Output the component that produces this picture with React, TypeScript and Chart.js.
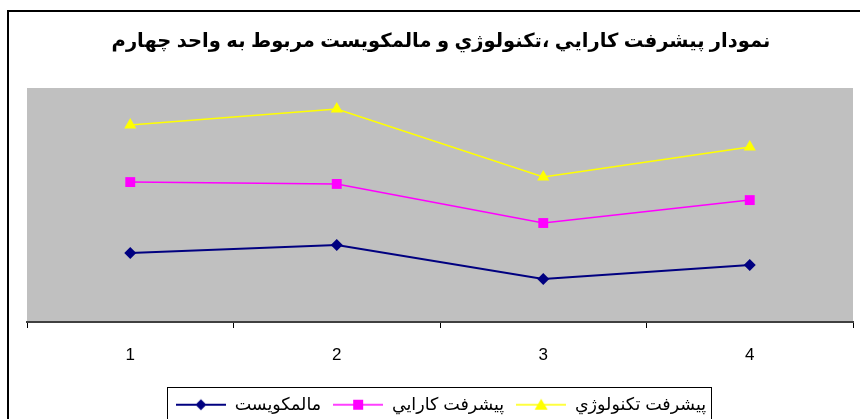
import React, { useEffect, useRef } from 'react';
import { Chart, registerables } from 'chart.js';

Chart.register(...registerables);

const titleText = 'نمودار پيشرفت كارايي ،تكنولوژي و مالمكويست مربوط به واحد چهارم';
const categories = ['1', '2', '3', '4'];
const seriesNames = ['مالمكويست', 'پيشرفت كارايي', 'پيشرفت تكنولوژي'];
const malmquist = [29.5, 32.9, 18.4, 24.4];
const efficiency = [59.8, 59.0, 42.3, 52.1];
const technology = [84.2, 91.0, 62.0, 74.8];
const seriesColors = ['#000080', '#FF00FF', '#FFFF00'];
const seriesShapes = ['rectRot', 'rect', 'triangle'];

const FONT = 'Arial, "Liberation Sans", "DejaVu Sans", sans-serif';
const ICON_W = 50;

function makeIcon(color: string, shape: string, lineWidth: number): HTMLCanvasElement {
  const c = document.createElement('canvas');
  c.width = ICON_W;
  c.height = 16;
  const ctx = c.getContext('2d')!;
  ctx.strokeStyle = color;
  ctx.lineWidth = lineWidth;
  ctx.beginPath();
  ctx.moveTo(0, 8);
  ctx.lineTo(ICON_W, 8);
  ctx.stroke();
  ctx.fillStyle = color;
  ctx.beginPath();
  const cx = ICON_W / 2, cy = 8;
  if (shape === 'rectRot') {
    ctx.moveTo(cx, cy - 5.5);
    ctx.lineTo(cx + 5.5, cy);
    ctx.lineTo(cx, cy + 5.5);
    ctx.lineTo(cx - 5.5, cy);
  } else if (shape === 'rect') {
    ctx.rect(cx - 5, cy - 5, 10, 10);
  } else {
    ctx.moveTo(cx, cy - 6);
    ctx.lineTo(cx + 6.5, cy + 5);
    ctx.lineTo(cx - 6.5, cy + 5);
  }
  ctx.closePath();
  ctx.fill();
  return c;
}

export default function App() {
  const ref = useRef<HTMLCanvasElement>(null);

  useEffect(() => {
    const canvas = ref.current!;
    const icons = seriesColors.map((c, i) => makeIcon(c, seriesShapes[i], i === 0 ? 2 : 1.5));
    const seriesValues = [malmquist, efficiency, technology];

    const framePlugin = {
      id: 'framePlugin',
      beforeDraw(chart: any) {
        const { ctx, chartArea } = chart;
        ctx.save();
        ctx.fillStyle = '#FFFFFF';
        ctx.fillRect(0, 0, chart.width, chart.height);
        ctx.fillStyle = '#C0C0C0';
        ctx.fillRect(chartArea.left, chartArea.top, chartArea.right - chartArea.left, chartArea.bottom - chartArea.top);
        ctx.restore();
      },
      afterDraw(chart: any) {
        const { ctx } = chart;
        ctx.save();
        ctx.strokeStyle = '#000000';
        ctx.lineWidth = 2;
        ctx.strokeRect(8, 11, 1000, 1000);
        const boxes = chart.legend?.legendHitBoxes || [];
        if (boxes.length) {
          const left = Math.min(...boxes.map((b: any) => b.left)) - 9;
          const right = Math.max(...boxes.map((b: any) => b.left + b.width)) + 5;
          const top = Math.min(...boxes.map((b: any) => b.top)) - 9;
          ctx.lineWidth = 1;
          ctx.strokeRect(Math.round(left) + 0.5, Math.round(top) + 0.5, Math.round(right - left), 100);
        }
        ctx.restore();
      },
    };

    const chart = new Chart(canvas, {
      type: 'line',
      data: {
        labels: categories,
        datasets: seriesNames.map((name, i) => ({
          label: name,
          data: seriesValues[i],
          borderColor: seriesColors[i],
          backgroundColor: seriesColors[i],
          borderWidth: i === 0 ? 2 : 1.5,
          pointStyle: seriesShapes[i] as any,
          pointRadius: i === 0 ? 6 : 7,
          pointBorderWidth: 0,
          pointBackgroundColor: seriesColors[i],
          pointBorderColor: seriesColors[i],
          tension: 0,
          fill: false,
        })),
      },
      options: {
        animation: false,
        responsive: false,
        layout: { padding: { left: 27, right: 5, top: 0, bottom: -4.5 } },
        plugins: {
          title: {
            display: true,
            text: titleText,
            color: '#000',
            font: { family: FONT, size: 19.5, weight: 'bold' },
            padding: { top: 30, bottom: 34.6 },
          },
          legend: {
            position: 'bottom',
            labels: {
              usePointStyle: true,
              pointStyleWidth: ICON_W,
              boxHeight: 17.5,
              padding: 12,
              color: '#000',
              font: { family: FONT, size: 17.5 },
              generateLabels: (ch: any) =>
                ch.data.datasets.map((ds: any, i: number) => ({
                  text: ds.label,
                  pointStyle: icons[i],
                  fillStyle: seriesColors[i],
                  strokeStyle: seriesColors[i],
                  lineWidth: 0,
                  hidden: false,
                  datasetIndex: i,
                  fontColor: '#000',
                })),
            },
          },
          tooltip: { enabled: false },
        },
        scales: {
          x: {
            offset: true,
            grid: { offset: true, drawOnChartArea: false, drawTicks: true, tickLength: 6, color: '#000', lineWidth: 1 },
            border: { display: true, color: '#404040', width: 2 },
            ticks: { color: '#000', font: { family: FONT, size: 17 }, padding: 17, maxRotation: 0 },
            afterFit: (s: any) => { s.height = 62; },
          },
          y: { display: false, min: 0, max: 100 },
        },
      },
      plugins: [framePlugin],
    });
    return () => chart.destroy();
  }, []);

  return (
    <div style={{ position: 'absolute', left: 0, top: 0, width: 860, height: 419, background: '#fff' }}>
      <canvas ref={ref} width={860} height={419} style={{ display: 'block', width: 860, height: 419 }} />
    </div>
  );
}
